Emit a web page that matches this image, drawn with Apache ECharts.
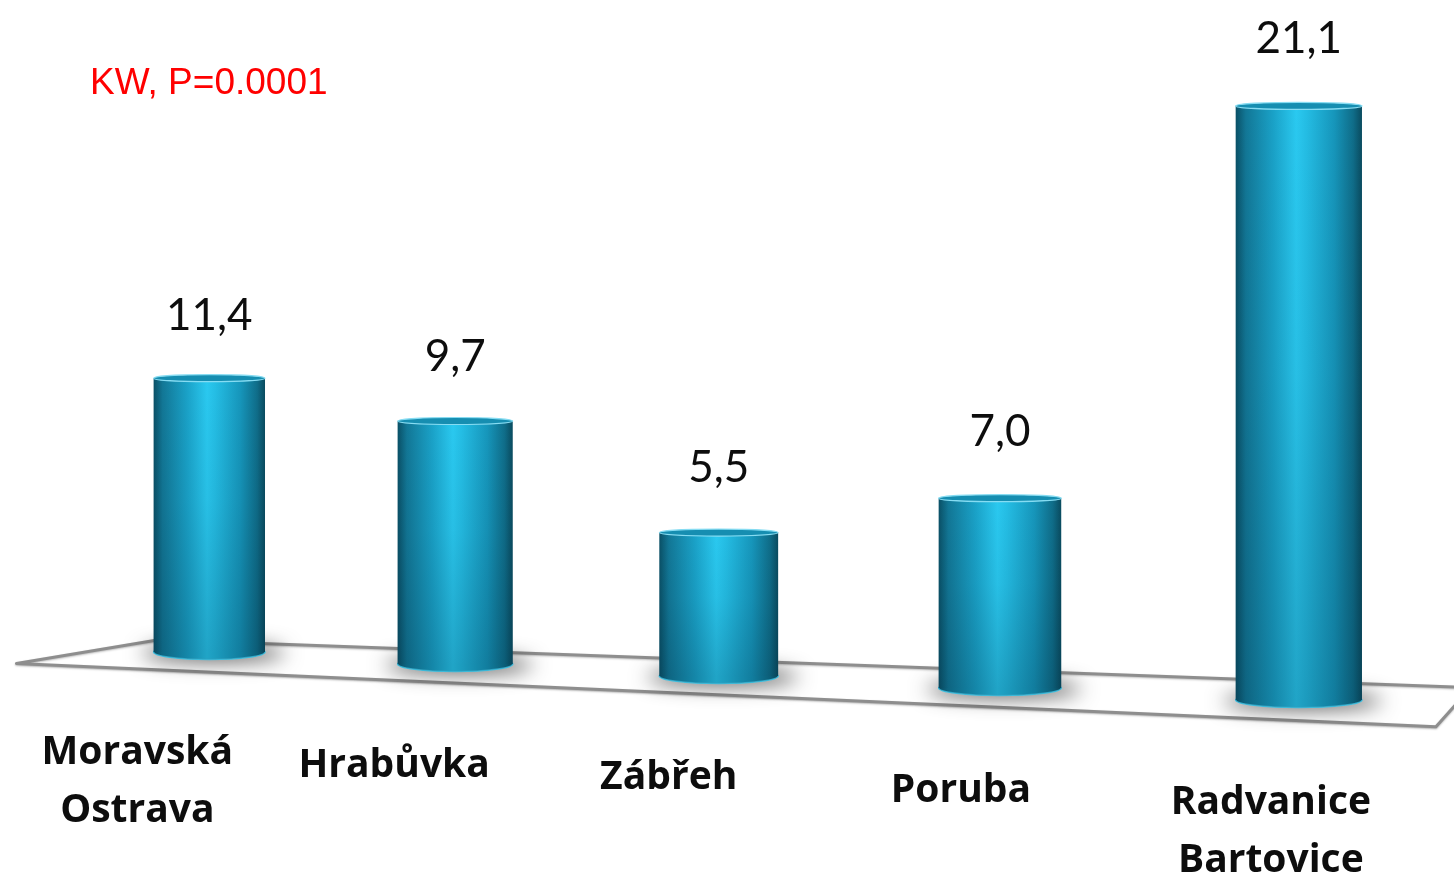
<!DOCTYPE html>
<html>
<head>
<meta charset="utf-8">
<script src="https://cdn.jsdelivr.net/npm/echarts@6/dist/echarts.min.js"></script>
<style>
  html, body { margin: 0; padding: 0; background: #fff; }
  #chart { width: 1454px; height: 877px; }
</style>
</head>
<body>
<div id="chart"></div>
<script>
// data
var CATEGORIES = ['Moravská\nOstrava', 'Hrabůvka', 'Zábřeh', 'Poruba', 'Radvanice\nBartovice']
var VALUES = [11.4, 9.7, 5.5, 7.0, 21.1]
var NOTE = 'KW, P=0.0001'

var myChart = echarts.init(document.getElementById('chart'))

// pseudo perspective: things on the right are nearer to the viewer
function persp(cs, gx) {
  var u = (gx - cs.x) / cs.width
  return {
    u: u,
    x: gx + 0.1936 * cs.width * u * u,
    dy: 60 * u,
    kh: 1 + 0.22 * u,
    kw: 1 + 0.17 * u
  }
}

function floorPt(cs, u, front) {
  var p = persp(cs, cs.x + cs.width * u)
  var cy = cs.y + cs.height + p.dy
  return [p.x, front ? cy + 21.5 : cy - (9 + 10 * u)]
}

var bodyColor = {
  type: 'linear', x: 0, y: 0, x2: 1, y2: 0,
  colorStops: [
    { offset: 0, color: '#0a5066' },
    { offset: 0.08, color: '#127796' },
    { offset: 0.3, color: '#1aa2c8' },
    { offset: 0.48, color: '#2ac9f0' },
    { offset: 0.56, color: '#24bde4' },
    { offset: 0.78, color: '#1696bb' },
    { offset: 0.93, color: '#0f6d89' },
    { offset: 1, color: '#0a4b5f' }
  ]
}

function renderFloor(params, api) {
  var cs = params.coordSys
  return {
    type: 'polygon',
    shape: {
      points: [floorPt(cs, -0.068, true), floorPt(cs, 0.057, false), floorPt(cs, 1.01, false), floorPt(cs, 0.988, true)]
    },
    style: {
      fill: '#ffffff',
      stroke: '#8e8e8e',
      lineWidth: 3,
      lineJoin: 'round',
      shadowColor: 'rgba(0,0,0,0.25)',
      shadowBlur: 2,
      shadowOffsetY: 1
    }
  }
}

function renderBar(params, api) {
  var i = api.value(0)
  var v = api.value(1)
  var cs = params.coordSys
  var p0 = api.coord([i, 0])
  var p1 = api.coord([i, v])
  var p = persp(cs, p0[0])
  var cx = p.x
  var baseY = p0[1] + p.dy
  var topY = baseY - (p0[1] - p1[1]) * p.kh
  var w = api.size([1, 0])[0] * 0.48 * p.kw
  var rx = w / 2
  var ryTop = 3.5, ryBot = 7.5
  var u = p.u
  var far = 3000

  return {
    type: 'group',
    children: [
      // soft shadow on the floor (only the blurred shadow lands on screen)
      {
        type: 'ellipse',
        shape: { cx: cx + 4, cy: baseY + 1 - far, rx: rx + 16, ry: 8 },
        style: { fill: '#000', shadowColor: 'rgba(0,0,0,0.7)', shadowBlur: 20, shadowOffsetY: far }
      },
      {
        type: 'ellipse',
        shape: { cx: cx, cy: baseY, rx: rx, ry: ryBot },
        style: { fill: bodyColor, stroke: '#3fc3e4', lineWidth: 1.5 }
      },
      {
        type: 'ellipse',
        shape: { cx: cx, cy: baseY, rx: rx, ry: ryBot },
        style: { fill: 'rgba(0,35,55,0.22)' }
      },
      {
        type: 'rect',
        shape: { x: cx - rx, y: topY, width: w, height: baseY - topY },
        style: { fill: bodyColor }
      },
      {
        type: 'rect',
        shape: { x: cx - rx, y: topY, width: w, height: baseY - topY },
        style: {
          fill: {
            type: 'linear', x: 0, y: 0, x2: 0, y2: 1,
            colorStops: [
              { offset: 0, color: 'rgba(0,35,55,0)' },
              { offset: 0.45, color: 'rgba(0,35,55,0.06)' },
              { offset: 1, color: 'rgba(0,35,55,0.22)' }
            ]
          }
        }
      },
      {
        type: 'ellipse',
        shape: { cx: cx, cy: topY, rx: rx, ry: ryTop },
        style: { fill: '#168eb1', stroke: '#86dcf2', lineWidth: 1.2 }
      },
      {
        type: 'text',
        style: {
          x: cx,
          y: topY - (62 + 6 * u),
          text: String(v.toFixed(1)).replace('.', ','),
          align: 'center',
          verticalAlign: 'middle',
          fontFamily: 'Lato',
          fontSize: 44,
          fill: '#0d0d0d'
        }
      },
      {
        type: 'text',
        style: {
          x: cx - 77.5 + 55 * u,
          y: baseY + 101 + 2.5 * u - 29,
          text: CATEGORIES[i],
          align: 'center',
          verticalAlign: 'top',
          fontFamily: 'Open Sans',
          fontWeight: 'bold',
          fontSize: 39,
          lineHeight: 58,
          fill: '#0d0d0d'
        }
      }
    ]
  }
}

myChart.setOption({
  backgroundColor: '#ffffff',
  animation: false,
  title: {
    text: NOTE,
    left: 90,
    top: 65,
    padding: 0,
    textStyle: {
      fontFamily: 'Liberation Sans',
      fontWeight: 'normal',
      fontSize: 37,
      lineHeight: 37,
      color: '#ff0000'
    }
  },
  grid: { left: 93, right: 220, top: 58.5, bottom: 231 },
  xAxis: {
    type: 'category',
    data: CATEGORIES,
    show: false
  },
  yAxis: {
    type: 'value',
    min: 0,
    max: 25,
    show: false,
    splitLine: { show: false }
  },
  series: [
    {
      name: 'floor',
      type: 'custom',
      silent: true,
      z: 1,
      renderItem: renderFloor,
      data: [[0, 0]]
    },
    {
      name: 'bars',
      type: 'custom',
      z: 2,
      clip: false,
      renderItem: renderBar,
      encode: { x: 0, y: 1 },
      data: VALUES.map(function (v, i) { return [i, v] })
    }
  ]
})
</script>
</body>
</html>
